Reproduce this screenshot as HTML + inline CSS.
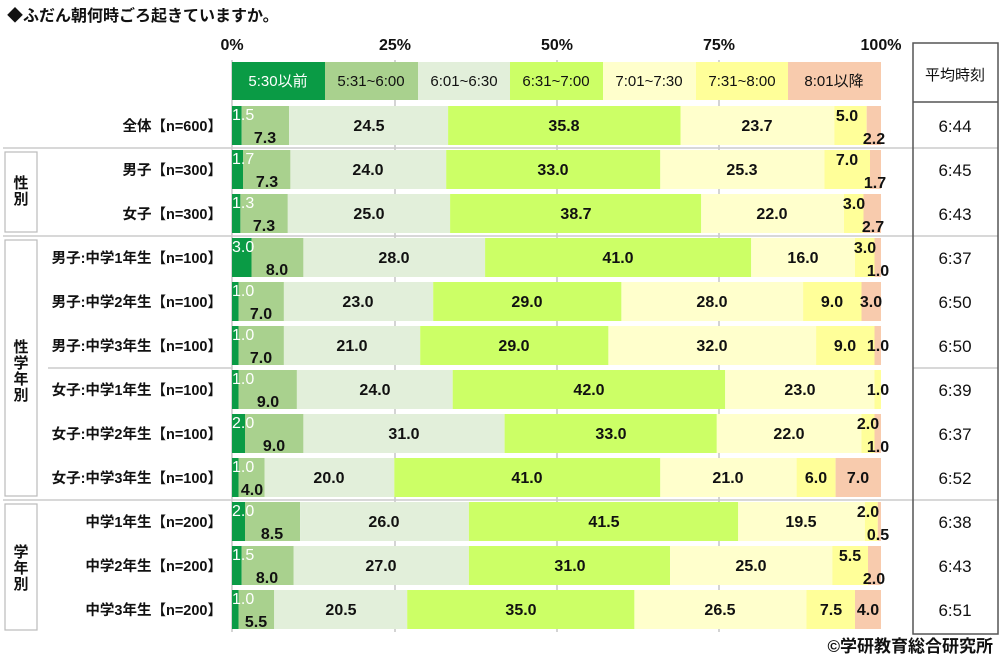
<!DOCTYPE html>
<html><head><meta charset="utf-8"><style>
body{margin:0;background:#fff;}
svg{display:block;font-family:"Liberation Sans","Noto Sans CJK JP",sans-serif;}
.v{font-size:16px;font-weight:bold;fill:#111;text-anchor:middle;}
.w{font-size:16px;fill:#fff;text-anchor:start;}
.rl{font-size:14.5px;font-weight:bold;fill:#111;text-anchor:end;}
.t{font-size:17px;fill:#111;text-anchor:middle;}
.lg{font-size:15px;fill:#111;text-anchor:middle;}
.ax{font-size:16px;font-weight:bold;fill:#111;text-anchor:middle;}
.g{font-size:15px;font-weight:bold;fill:#111;text-anchor:middle;}
</style></head><body>
<svg width="1000" height="660" viewBox="0 0 1000 660">
<text x="7" y="21" style="font-size:16px;font-weight:bold;fill:#111">◆ふだん朝何時ごろ起きていますか。</text>
<text class="ax" x="232" y="50">0%</text><text class="ax" x="395" y="50">25%</text><text class="ax" x="557" y="50">50%</text><text class="ax" x="719" y="50">75%</text><text class="ax" x="881" y="50">100%</text>
<g stroke="#aaa" stroke-width="1"><line x1="232" y1="60" x2="232" y2="632"/><line x1="395" y1="60" x2="395" y2="632"/><line x1="557" y1="60" x2="557" y2="632"/><line x1="719" y1="60" x2="719" y2="632"/></g>
<g stroke="#ccc" stroke-width="1.5"><line x1="3" y1="148" x2="998" y2="148"/><line x1="3" y1="236" x2="998" y2="236"/><line x1="3" y1="500" x2="998" y2="500"/><line x1="48" y1="368" x2="232" y2="368"/><line x1="913" y1="368" x2="998" y2="368"/></g>
<rect x="232" y="62" width="93" height="38" fill="#0a9b45"/><rect x="325" y="62" width="93" height="38" fill="#a9d18e"/><rect x="418" y="62" width="92" height="38" fill="#e2efda"/><rect x="510" y="62" width="93" height="38" fill="#ccff66"/><rect x="603" y="62" width="93" height="38" fill="#ffffcc"/><rect x="696" y="62" width="92" height="38" fill="#ffff99"/><rect x="788" y="62" width="93" height="38" fill="#f8cbad"/>
<text class="lg" x="278" y="86" style="fill:#fff">5:30以前</text><text class="lg" x="371" y="86">5:31~6:00</text><text class="lg" x="464" y="86">6:01~6:30</text><text class="lg" x="556" y="86">6:31~7:00</text><text class="lg" x="649" y="86">7:01~7:30</text><text class="lg" x="742" y="86">7:31~8:00</text><text class="lg" x="834" y="86">8:01以降</text>
<rect x="913" y="43" width="85" height="591" fill="none" stroke="#555" stroke-width="1.5"/>
<line x1="913" y1="102" x2="998" y2="102" stroke="#555" stroke-width="1.5"/>
<text x="955" y="80" style="font-size:15px;fill:#111;text-anchor:middle">平均時刻</text>
<g fill="none" stroke="#bbb" stroke-width="1.2"><rect x="5" y="152" width="32" height="80"/><rect x="5" y="240" width="32" height="256"/><rect x="5" y="504" width="32" height="126"/></g>
<text class="g" x="21" y="188">性</text><text class="g" x="21" y="204">別</text>
<text class="g" x="21" y="352">性</text><text class="g" x="21" y="368">学</text><text class="g" x="21" y="384">年</text><text class="g" x="21" y="400">別</text>
<text class="g" x="21" y="557">学</text><text class="g" x="21" y="573">年</text><text class="g" x="21" y="589">別</text>

<g><rect x="232" y="106" width="9.7" height="39" fill="#0a9b45"/><rect x="241.7" y="106" width="47.4" height="39" fill="#a9d18e"/><rect x="289.1" y="106" width="159" height="39" fill="#e2efda"/><rect x="448.1" y="106" width="232.4" height="39" fill="#ccff66"/><rect x="680.5" y="106" width="153.8" height="39" fill="#ffffcc"/><rect x="834.3" y="106" width="32.4" height="39" fill="#ffff99"/><rect x="866.7" y="106" width="14.3" height="39" fill="#f8cbad"/>
<text class="w" x="232" y="120">1.5</text><text class="v" x="265" y="143">7.3</text><text class="v" x="369" y="131">24.5</text><text class="v" x="564" y="131">35.8</text><text class="v" x="757" y="131">23.7</text><text class="v" x="847" y="121">5.0</text><text class="v" x="874" y="144">2.2</text>
<text class="rl" x="222" y="131">全体【n=600】</text><text class="t" x="955" y="132">6:44</text></g>
<g><rect x="232" y="150" width="11" height="39" fill="#0a9b45"/><rect x="243" y="150" width="47.4" height="39" fill="#a9d18e"/><rect x="290.4" y="150" width="155.8" height="39" fill="#e2efda"/><rect x="446.2" y="150" width="214.1" height="39" fill="#ccff66"/><rect x="660.3" y="150" width="164.2" height="39" fill="#ffffcc"/><rect x="824.5" y="150" width="45.5" height="39" fill="#ffff99"/><rect x="870" y="150" width="11" height="39" fill="#f8cbad"/>
<text class="w" x="232" y="164">1.7</text><text class="v" x="267" y="187">7.3</text><text class="v" x="368" y="175">24.0</text><text class="v" x="553" y="175">33.0</text><text class="v" x="742" y="175">25.3</text><text class="v" x="847" y="165">7.0</text><text class="v" x="875" y="188">1.7</text>
<text class="rl" x="222" y="175">男子【n=300】</text><text class="t" x="955" y="176">6:45</text></g>
<g><rect x="232" y="194" width="8.4" height="39" fill="#0a9b45"/><rect x="240.4" y="194" width="47.4" height="39" fill="#a9d18e"/><rect x="287.8" y="194" width="162.3" height="39" fill="#e2efda"/><rect x="450.1" y="194" width="251.1" height="39" fill="#ccff66"/><rect x="701.2" y="194" width="142.8" height="39" fill="#ffffcc"/><rect x="844" y="194" width="19.5" height="39" fill="#ffff99"/><rect x="863.5" y="194" width="17.5" height="39" fill="#f8cbad"/>
<text class="w" x="232" y="208">1.3</text><text class="v" x="264" y="231">7.3</text><text class="v" x="369" y="219">25.0</text><text class="v" x="576" y="219">38.7</text><text class="v" x="772" y="219">22.0</text><text class="v" x="854" y="209">3.0</text><text class="v" x="873" y="232">2.7</text>
<text class="rl" x="222" y="219">女子【n=300】</text><text class="t" x="955" y="220">6:43</text></g>
<g><rect x="232" y="238" width="19.5" height="39" fill="#0a9b45"/><rect x="251.5" y="238" width="51.9" height="39" fill="#a9d18e"/><rect x="303.4" y="238" width="181.7" height="39" fill="#e2efda"/><rect x="485.1" y="238" width="266.1" height="39" fill="#ccff66"/><rect x="751.2" y="238" width="103.8" height="39" fill="#ffffcc"/><rect x="855" y="238" width="19.5" height="39" fill="#ffff99"/><rect x="874.5" y="238" width="6.5" height="39" fill="#f8cbad"/>
<text class="w" x="232" y="252">3.0</text><text class="v" x="277" y="275">8.0</text><text class="v" x="394" y="263">28.0</text><text class="v" x="618" y="263">41.0</text><text class="v" x="803" y="263">16.0</text><text class="v" x="865" y="253">3.0</text><text class="v" x="878" y="276">1.0</text>
<text class="rl" x="222" y="263">男子:中学1年生【n=100】</text><text class="t" x="955" y="264">6:37</text></g>
<g><rect x="232" y="282" width="6.5" height="39" fill="#0a9b45"/><rect x="238.5" y="282" width="45.4" height="39" fill="#a9d18e"/><rect x="283.9" y="282" width="149.3" height="39" fill="#e2efda"/><rect x="433.2" y="282" width="188.2" height="39" fill="#ccff66"/><rect x="621.4" y="282" width="181.7" height="39" fill="#ffffcc"/><rect x="803.1" y="282" width="58.4" height="39" fill="#ffff99"/><rect x="861.5" y="282" width="19.5" height="39" fill="#f8cbad"/>
<text class="w" x="232" y="296">1.0</text><text class="v" x="261" y="319">7.0</text><text class="v" x="358" y="307">23.0</text><text class="v" x="527" y="307">29.0</text><text class="v" x="712" y="307">28.0</text><text class="v" x="832" y="307">9.0</text><text class="v" x="871" y="307">3.0</text>
<text class="rl" x="222" y="307">男子:中学2年生【n=100】</text><text class="t" x="955" y="308">6:50</text></g>
<g><rect x="232" y="326" width="6.5" height="39" fill="#0a9b45"/><rect x="238.5" y="326" width="45.4" height="39" fill="#a9d18e"/><rect x="283.9" y="326" width="136.3" height="39" fill="#e2efda"/><rect x="420.2" y="326" width="188.2" height="39" fill="#ccff66"/><rect x="608.4" y="326" width="207.7" height="39" fill="#ffffcc"/><rect x="816.1" y="326" width="58.4" height="39" fill="#ffff99"/><rect x="874.5" y="326" width="6.5" height="39" fill="#f8cbad"/>
<text class="w" x="232" y="340">1.0</text><text class="v" x="261" y="363">7.0</text><text class="v" x="352" y="351">21.0</text><text class="v" x="514" y="351">29.0</text><text class="v" x="712" y="351">32.0</text><text class="v" x="845" y="351">9.0</text><text class="v" x="878" y="351">1.0</text>
<text class="rl" x="222" y="351">男子:中学3年生【n=100】</text><text class="t" x="955" y="352">6:50</text></g>
<g><rect x="232" y="370" width="6.5" height="39" fill="#0a9b45"/><rect x="238.5" y="370" width="58.4" height="39" fill="#a9d18e"/><rect x="296.9" y="370" width="155.8" height="39" fill="#e2efda"/><rect x="452.7" y="370" width="272.5" height="39" fill="#ccff66"/><rect x="725.2" y="370" width="149.3" height="39" fill="#ffffcc"/><rect x="874.5" y="370" width="6.5" height="39" fill="#ffff99"/>
<text class="w" x="232" y="384">1.0</text><text class="v" x="268" y="407">9.0</text><text class="v" x="375" y="395">24.0</text><text class="v" x="589" y="395">42.0</text><text class="v" x="800" y="395">23.0</text><text class="v" x="878" y="395">1.0</text>
<text class="rl" x="222" y="395">女子:中学1年生【n=100】</text><text class="t" x="955" y="396">6:39</text></g>
<g><rect x="232" y="414" width="13" height="39" fill="#0a9b45"/><rect x="245" y="414" width="58.4" height="39" fill="#a9d18e"/><rect x="303.4" y="414" width="201.2" height="39" fill="#e2efda"/><rect x="504.6" y="414" width="212.2" height="39" fill="#ccff66"/><rect x="716.8" y="414" width="144.7" height="39" fill="#ffffcc"/><rect x="861.5" y="414" width="13" height="39" fill="#ffff99"/><rect x="874.5" y="414" width="6.5" height="39" fill="#f8cbad"/>
<text class="w" x="232" y="428">2.0</text><text class="v" x="274" y="451">9.0</text><text class="v" x="404" y="439">31.0</text><text class="v" x="611" y="439">33.0</text><text class="v" x="789" y="439">22.0</text><text class="v" x="868" y="429">2.0</text><text class="v" x="878" y="452">1.0</text>
<text class="rl" x="222" y="439">女子:中学2年生【n=100】</text><text class="t" x="955" y="440">6:37</text></g>
<g><rect x="232" y="458" width="6.5" height="39" fill="#0a9b45"/><rect x="238.5" y="458" width="26" height="39" fill="#a9d18e"/><rect x="264.5" y="458" width="129.8" height="39" fill="#e2efda"/><rect x="394.3" y="458" width="266" height="39" fill="#ccff66"/><rect x="660.3" y="458" width="136.3" height="39" fill="#ffffcc"/><rect x="796.6" y="458" width="39" height="39" fill="#ffff99"/><rect x="835.6" y="458" width="45.4" height="39" fill="#f8cbad"/>
<text class="w" x="232" y="472">1.0</text><text class="v" x="252" y="495">4.0</text><text class="v" x="329" y="483">20.0</text><text class="v" x="527" y="483">41.0</text><text class="v" x="728" y="483">21.0</text><text class="v" x="816" y="483">6.0</text><text class="v" x="858" y="483">7.0</text>
<text class="rl" x="222" y="483">女子:中学3年生【n=100】</text><text class="t" x="955" y="484">6:52</text></g>
<g><rect x="232" y="502" width="13" height="39" fill="#0a9b45"/><rect x="245" y="502" width="55.1" height="39" fill="#a9d18e"/><rect x="300.1" y="502" width="168.8" height="39" fill="#e2efda"/><rect x="468.9" y="502" width="269.3" height="39" fill="#ccff66"/><rect x="738.2" y="502" width="126.6" height="39" fill="#ffffcc"/><rect x="864.8" y="502" width="13" height="39" fill="#ffff99"/><rect x="877.8" y="502" width="3.2" height="39" fill="#f8cbad"/>
<text class="w" x="232" y="516">2.0</text><text class="v" x="272" y="539">8.5</text><text class="v" x="384" y="527">26.0</text><text class="v" x="604" y="527">41.5</text><text class="v" x="801" y="527">19.5</text><text class="v" x="868" y="517">2.0</text><text class="v" x="878" y="540">0.5</text>
<text class="rl" x="222" y="527">中学1年生【n=200】</text><text class="t" x="955" y="528">6:38</text></g>
<g><rect x="232" y="546" width="9.7" height="39" fill="#0a9b45"/><rect x="241.7" y="546" width="52" height="39" fill="#a9d18e"/><rect x="293.7" y="546" width="175.2" height="39" fill="#e2efda"/><rect x="468.9" y="546" width="201.2" height="39" fill="#ccff66"/><rect x="670.1" y="546" width="162.2" height="39" fill="#ffffcc"/><rect x="832.3" y="546" width="35.7" height="39" fill="#ffff99"/><rect x="868" y="546" width="13" height="39" fill="#f8cbad"/>
<text class="w" x="232" y="560">1.5</text><text class="v" x="267" y="583">8.0</text><text class="v" x="381" y="571">27.0</text><text class="v" x="570" y="571">31.0</text><text class="v" x="751" y="571">25.0</text><text class="v" x="850" y="561">5.5</text><text class="v" x="874" y="584">2.0</text>
<text class="rl" x="222" y="571">中学2年生【n=200】</text><text class="t" x="955" y="572">6:43</text></g>
<g><rect x="232" y="590" width="6.5" height="39" fill="#0a9b45"/><rect x="238.5" y="590" width="35.7" height="39" fill="#a9d18e"/><rect x="274.2" y="590" width="133" height="39" fill="#e2efda"/><rect x="407.2" y="590" width="227.2" height="39" fill="#ccff66"/><rect x="634.4" y="590" width="172" height="39" fill="#ffffcc"/><rect x="806.4" y="590" width="48.6" height="39" fill="#ffff99"/><rect x="855" y="590" width="26" height="39" fill="#f8cbad"/>
<text class="w" x="232" y="604">1.0</text><text class="v" x="256" y="627">5.5</text><text class="v" x="341" y="615">20.5</text><text class="v" x="521" y="615">35.0</text><text class="v" x="720" y="615">26.5</text><text class="v" x="831" y="615">7.5</text><text class="v" x="868" y="615">4.0</text>
<text class="rl" x="222" y="615">中学3年生【n=200】</text><text class="t" x="955" y="616">6:51</text></g>

<text x="993" y="652" style="font-size:17px;font-weight:bold;fill:#111;text-anchor:end">©学研教育総合研究所</text>
</svg>
</body></html>
